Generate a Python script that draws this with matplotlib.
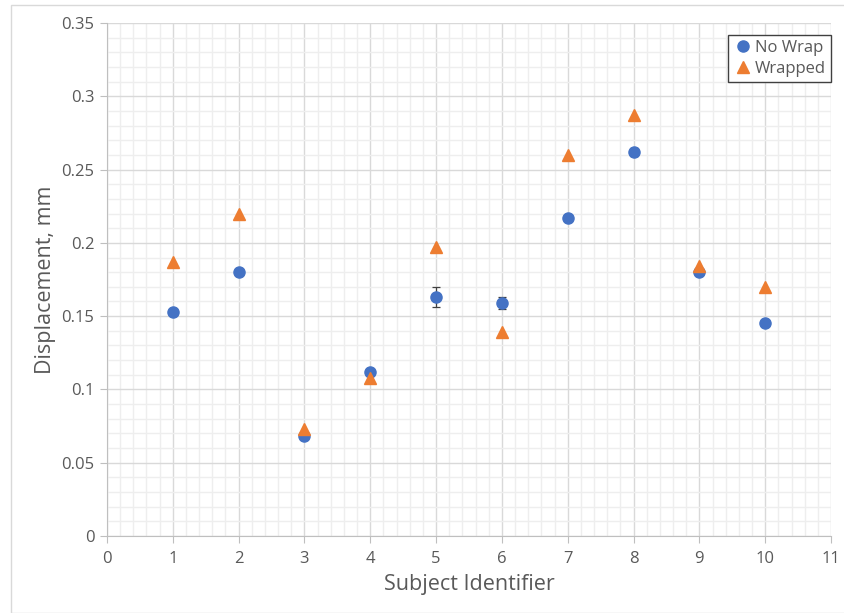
import numpy as np
import matplotlib.pyplot as plt
from matplotlib.ticker import MultipleLocator
from matplotlib.patches import Rectangle

plt.rcParams['font.family'] = ['Open Sans', 'DejaVu Sans']

# Data
subjects = [1, 2, 3, 4, 5, 6, 7, 8, 9, 10]
no_wrap = [0.153, 0.180, 0.068, 0.112, 0.163, 0.159, 0.217, 0.262, 0.180, 0.145]
no_wrap_err = [0.002, 0.002, 0.002, 0.002, 0.007, 0.004, 0.002, 0.003, 0.002, 0.002]
wrapped = [0.187, 0.220, 0.073, 0.108, 0.197, 0.139, 0.260, 0.287, 0.184, 0.170]

text_col = "#595959"

fig = plt.figure(figsize=(8.45, 6.13), dpi=100)
ax = fig.add_axes([107/845, 77/613, 724/845, 513/613])

# thin frame around the whole chart
fig.patches.append(Rectangle((11/845, 0), 1, 1 - 5/613, transform=fig.transFigure,
                             fill=False, edgecolor="#d9d9d9", linewidth=1))

ax.errorbar(subjects, no_wrap, yerr=no_wrap_err, fmt="none",
            ecolor="#404040", elinewidth=0.9, capsize=3, capthick=0.9, zorder=2.5)
ax.plot(subjects, no_wrap, "o", color="#4472c4", markersize=8,
        label="No Wrap", zorder=3, linestyle="none")
ax.plot(subjects, wrapped, "^", color="#ed7d31", markersize=9,
        label="Wrapped", zorder=4, linestyle="none")

ax.set_xlim(0, 11)
ax.set_ylim(0, 0.35)
ax.xaxis.set_major_locator(MultipleLocator(1))
ax.xaxis.set_minor_locator(MultipleLocator(0.2))
ax.yaxis.set_minor_locator(MultipleLocator(0.01))
ax.set_yticks(np.arange(0, 0.351, 0.05))
ax.set_yticklabels(["0", "0.05", "0.1", "0.15", "0.2", "0.25", "0.3", "0.35"])

ax.grid(which="major", color="#d9d9d9", linewidth=1)
ax.grid(which="minor", color="#eeeeee", linewidth=1)
ax.set_axisbelow(True)

for s in ["top", "right"]:
    ax.spines[s].set_visible(False)
for s in ["left", "bottom"]:
    ax.spines[s].set_color("#bfbfbf")

ax.tick_params(which="major", length=5, color="#bfbfbf", labelcolor=text_col,
               labelsize=12)
ax.tick_params(which="minor", length=0)
ax.tick_params(axis="x", pad=6)
ax.tick_params(axis="y", pad=4)

ax.set_xlabel("Subject Identifier", fontsize=15.5, color=text_col, labelpad=5)
ax.set_ylabel("Displacement, mm", fontsize=15.5, color=text_col, labelpad=4)

leg = ax.legend(loc="upper right", bbox_to_anchor=(1.0, 0.976), fancybox=False,
                edgecolor="#404040", fontsize=12, handletextpad=0.1,
                borderpad=0.3, labelspacing=0.3, handlelength=1.2,
                borderaxespad=0, labelcolor=text_col, framealpha=1)
leg.get_frame().set_linewidth(1)

fig.savefig("out.png", dpi=100)
